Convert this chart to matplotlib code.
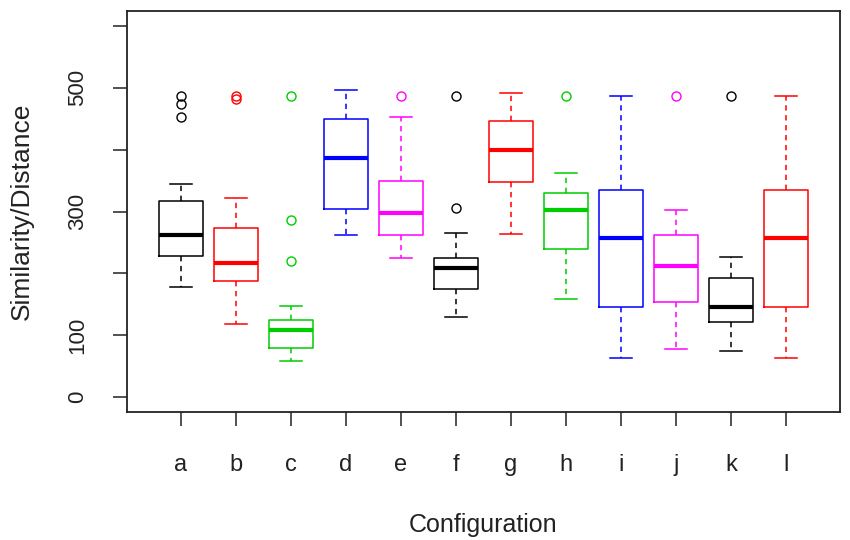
import matplotlib
matplotlib.use("Agg")
import matplotlib.pyplot as plt

plt.rcParams['font.family'] = ['Liberation Sans', 'DejaVu Sans']

# values
configs = ['a', 'b', 'c', 'd', 'e', 'f', 'g', 'h', 'i', 'j', 'k', 'l']
whis_lo = [178, 119, 58, 262, 225, 130, 264, 159, 63, 77, 74, 63]
q1      = [228, 188, 79, 304, 262, 175, 347, 239, 146, 154, 122, 146]
median  = [262, 217, 108, 386, 297, 208, 399, 302, 257, 212, 145, 257]
q3      = [317, 273, 124, 450, 349, 225, 447, 330, 335, 262, 193, 335]
whis_hi = [344, 322, 148, 497, 453, 265, 491, 362, 486, 302, 227, 486]
outliers = [[452, 474, 486], [482, 486], [220, 287, 486], [], [486],
            [305, 486], [], [486], [], [486], [486], []]
colors = ['black', '#FF0000', '#00CD00', '#0000FF', '#FF00FF']

stats = []
for i, name in enumerate(configs):
    stats.append({'label': name, 'whislo': whis_lo[i], 'q1': q1[i], 'med': median[i],
                  'q3': q3[i], 'whishi': whis_hi[i], 'fliers': outliers[i]})

fig = plt.figure(figsize=(8.5, 5.4), dpi=100)
ax = fig.add_axes([127 / 850, 1 - 412 / 540, (840 - 127) / 850, (412 - 11) / 540])

pos = list(range(1, len(configs) + 1))
bp = ax.bxp(stats, positions=pos, widths=0.8, capwidths=0.4, patch_artist=False,
            boxprops=dict(linewidth=1.1),
            medianprops=dict(linewidth=3.0, solid_capstyle='butt'),
            whiskerprops=dict(linewidth=1.1, linestyle=(0, (3.5, 3))),
            capprops=dict(linewidth=1.1),
            flierprops=dict(marker='o', markersize=6.5, markerfacecolor='none',
                            markeredgewidth=1.0, linestyle='none'))

for i in range(len(configs)):
    c = colors[i % len(colors)]
    bp['boxes'][i].set_color(c)
    bp['medians'][i].set_color(c)
    for art in bp['whiskers'][2 * i:2 * i + 2] + bp['caps'][2 * i:2 * i + 2]:
        art.set_color(c)
    bp['fliers'][i].set_markeredgecolor(c)

ax.set_xlim(0.02, 12.98)
ax.set_ylim(-24, 624)
ax.set_xticks(pos)
ax.set_xticklabels(configs, fontsize=17, color='#222222')
ax.set_yticks([0, 100, 200, 300, 400, 500, 600])
ax.set_yticklabels(['0', '100', '', '300', '', '500', ''], rotation=90, va='center',
                   fontsize=16, color='#222222')
ax.tick_params(axis='both', direction='out', length=10, width=1.1, color='#222222')
ax.tick_params(axis='x', pad=20)
ax.tick_params(axis='y', pad=18)
for sp in ax.spines.values():
    sp.set_linewidth(1.3)
    sp.set_color('#222222')

ax.set_xlabel('Configuration', fontsize=18, labelpad=27, color='#222222')
ax.set_ylabel('Similarity/Distance', fontsize=19, labelpad=24, color='#222222')

fig.savefig('out.png', dpi=100)
